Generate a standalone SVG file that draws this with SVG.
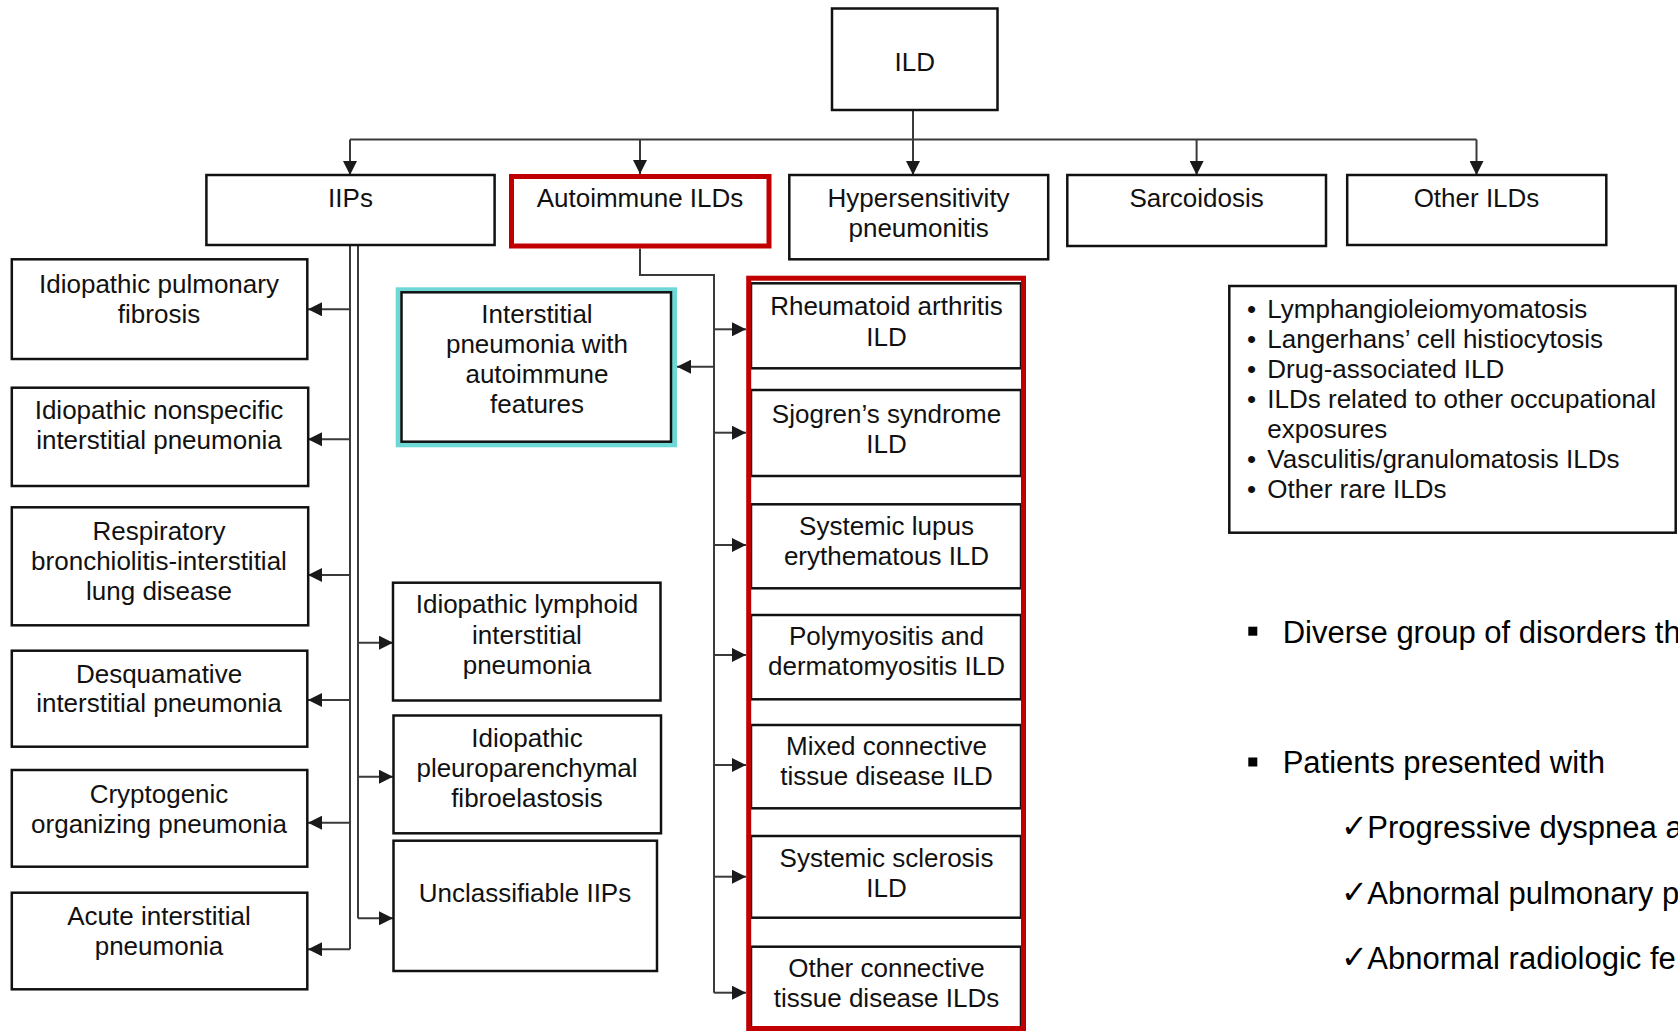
<svg xmlns="http://www.w3.org/2000/svg" width="1678" height="1031" viewBox="0 0 1678 1031">
<defs>
<marker id="arr" markerUnits="userSpaceOnUse" markerWidth="14" markerHeight="14" refX="14" refY="7" orient="auto"><path d="M0,0 L14,7 L0,14 z" fill="#1a1a1a"/></marker>
</defs>
<style>
.box{fill:#fff;stroke:#111;stroke-width:2.5}
.red{fill:none;stroke:#C00000;stroke-width:5}
.cyan{fill:none;stroke:#6ED8D6;stroke-width:5}
.t{font-family:"Liberation Sans",Arial,Helvetica,sans-serif;font-size:26px;fill:#111;text-anchor:middle}
.l{font-family:"Liberation Sans",Arial,Helvetica,sans-serif;font-size:26px;fill:#111}
.b{font-family:"Liberation Sans",Arial,Helvetica,sans-serif;font-size:31px;fill:#000}
.chk{font-family:"DejaVu Sans",sans-serif;font-size:32px}
.c{fill:none;stroke:#3a3a3a;stroke-width:2}
.a{marker-end:url(#arr)}
</style>
<rect width="1678" height="1031" fill="#fff"/>

<g id="connectors">
<path class="c a" d="M913,110 V175"/>
<path class="c" d="M350,139.5 H1476.5"/>
<path class="c a" d="M350,139.5 V175"/>
<path class="c a" d="M640,139.5 V174"/>
<path class="c a" d="M1196.6,139.5 V175"/>
<path class="c a" d="M1476.5,139.5 V175"/>
<path class="c" d="M350,245 V949.3"/>
<path class="c" d="M358,245 V918.3"/>
<path class="c a" d="M350,309.3 H308"/>
<path class="c a" d="M350,439.3 H308"/>
<path class="c a" d="M350,575 H308"/>
<path class="c a" d="M350,700 H308"/>
<path class="c a" d="M350,822.7 H308"/>
<path class="c a" d="M350,949.3 H308"/>
<path class="c a" d="M358,642.7 H393"/>
<path class="c a" d="M358,776.7 H393"/>
<path class="c a" d="M358,918.3 H393"/>
<path class="c" d="M640,248.5 V275 H714 V992.7"/>
<path class="c a" d="M714,366.7 H677"/>
<path class="c a" d="M714,329.3 H746"/>
<path class="c a" d="M714,432.7 H746"/>
<path class="c a" d="M714,545 H746"/>
<path class="c a" d="M714,655 H746"/>
<path class="c a" d="M714,765 H746"/>
<path class="c a" d="M714,876.7 H746"/>
<path class="c a" d="M714,992.7 H746"/>
</g>

<g id="ild"><rect class="box" x="832" y="8.5" width="165.5" height="101.5"/><text class="t" x="914.7" y="70.5">ILD</text></g>

<g id="iips"><rect class="box" x="206.4" y="175" width="288.2" height="70"/><text class="t" x="350.5" y="207">IIPs</text></g>
<g id="autoimmune"><rect class="red" x="511.5" y="176.5" width="257.5" height="69.5" fill="#fff"/><text class="t" x="640" y="206.7">Autoimmune ILDs</text></g>
<g id="hp"><rect class="box" x="789.3" y="175" width="258.9" height="84.3"/><text class="t" x="918.6" y="206.7">Hypersensitivity</text><text class="t" x="918.6" y="237.3">pneumonitis</text></g>
<g id="sarcoidosis"><rect class="box" x="1067.3" y="175" width="258.7" height="71"/><text class="t" x="1196.6" y="206.7">Sarcoidosis</text></g>
<g id="other-ilds"><rect class="box" x="1347.2" y="175" width="259.1" height="70"/><text class="t" x="1476.5" y="206.7">Other ILDs</text></g>

<g id="ipf"><rect class="box" x="11.8" y="259.3" width="295.5" height="99.7"/><text class="t" x="159" y="292.7">Idiopathic pulmonary</text><text class="t" x="159" y="322.7">fibrosis</text></g>
<g id="insip"><rect class="box" x="11.8" y="387.7" width="296.4" height="98.3"/><text class="t" x="159" y="419.3">Idiopathic nonspecific</text><text class="t" x="159" y="449.3">interstitial pneumonia</text></g>
<g id="rbild"><rect class="box" x="11.8" y="507.3" width="296.4" height="118"/><text class="t" x="159" y="539.5">Respiratory</text><text class="t" x="159" y="569.5">bronchiolitis-interstitial</text><text class="t" x="159" y="599.5">lung disease</text></g>
<g id="dip"><rect class="box" x="11.8" y="650.7" width="295.5" height="96"/><text class="t" x="159" y="683">Desquamative</text><text class="t" x="159" y="712">interstitial pneumonia</text></g>
<g id="cop"><rect class="box" x="11.8" y="770" width="295.5" height="96.7"/><text class="t" x="159" y="802.7">Cryptogenic</text><text class="t" x="159" y="832.7">organizing pneumonia</text></g>
<g id="aip"><rect class="box" x="11.8" y="892.7" width="295.5" height="96.6"/><text class="t" x="159" y="924.5">Acute interstitial</text><text class="t" x="159" y="954.5">pneumonia</text></g>

<g id="ipaf"><rect class="cyan" x="398.2" y="289.8" width="276.3" height="155"/><rect class="box" x="401.5" y="292.3" width="269.5" height="149.4" stroke-width="2"/><text class="t" x="537" y="323.3">Interstitial</text><text class="t" x="537" y="353.3">pneumonia with</text><text class="t" x="537" y="383.3">autoimmune</text><text class="t" x="537" y="413.3">features</text></g>
<g id="lip"><rect class="box" x="393" y="582.7" width="267.5" height="117.8"/><text class="t" x="527" y="613.3">Idiopathic lymphoid</text><text class="t" x="527" y="643.5">interstitial</text><text class="t" x="527" y="673.5">pneumonia</text></g>
<g id="ppfe"><rect class="box" x="393.5" y="715.5" width="267.5" height="117.8"/><text class="t" x="527" y="746.7">Idiopathic</text><text class="t" x="527" y="776.7">pleuroparenchymal</text><text class="t" x="527" y="806.7">fibroelastosis</text></g>
<g id="unclassifiable"><rect class="box" x="393.5" y="840.7" width="263.5" height="130.3"/><text class="t" x="525" y="901.7">Unclassifiable IIPs</text></g>

<g id="ctd-group">
<g id="ra"><rect class="box" x="751" y="283.3" width="270" height="85"/><text class="t" x="886.5" y="315">Rheumatoid arthritis</text><text class="t" x="886.5" y="346">ILD</text></g>
<g id="sjogren"><rect class="box" x="751" y="390" width="270" height="86"/><text class="t" x="886.5" y="422.7">Sjogren’s syndrome</text><text class="t" x="886.5" y="452.7">ILD</text></g>
<g id="sle"><rect class="box" x="751" y="504.3" width="270" height="84"/><text class="t" x="886.5" y="535">Systemic lupus</text><text class="t" x="886.5" y="565">erythematous ILD</text></g>
<g id="pmdm"><rect class="box" x="751" y="615" width="270" height="84.3"/><text class="t" x="886.5" y="645">Polymyositis and</text><text class="t" x="886.5" y="675">dermatomyositis ILD</text></g>
<g id="mctd"><rect class="box" x="751" y="725" width="270" height="83.3"/><text class="t" x="886.5" y="755">Mixed connective</text><text class="t" x="886.5" y="785">tissue disease ILD</text></g>
<g id="ssc"><rect class="box" x="751" y="836" width="270" height="81.7"/><text class="t" x="886.5" y="866.7">Systemic sclerosis</text><text class="t" x="886.5" y="896.7">ILD</text></g>
<g id="other-ctd"><rect class="box" x="751" y="946.7" width="270" height="90"/><text class="t" x="886.5" y="976.7">Other connective</text><text class="t" x="886.5" y="1006.7">tissue disease ILDs</text></g>
<rect class="red" x="748.7" y="278.2" width="274.8" height="750.3"/>
</g>

<g id="other-list"><rect class="box" x="1229.3" y="286" width="446.4" height="246.7" stroke-width="2"/>
<text class="l"><tspan x="1247" y="318.3">•</tspan><tspan x="1267.3">Lymphangioleiomyomatosis</tspan></text>
<text class="l"><tspan x="1247" y="348.3">•</tspan><tspan x="1267.3">Langerhans’ cell histiocytosis</tspan></text>
<text class="l"><tspan x="1247" y="378.3">•</tspan><tspan x="1267.3">Drug-associated ILD</tspan></text>
<text class="l"><tspan x="1247" y="408.3">•</tspan><tspan x="1267.3">ILDs related to other occupational</tspan></text>
<text class="l" x="1267.3" y="437.7">exposures</text>
<text class="l"><tspan x="1247" y="468.3">•</tspan><tspan x="1267.3">Vasculitis/granulomatosis ILDs</tspan></text>
<text class="l"><tspan x="1247" y="498.3">•</tspan><tspan x="1267.3">Other rare ILDs</tspan></text>
</g>

<g id="notes">
<rect x="1248.3" y="626.7" width="9" height="9" fill="#000"/>
<text class="b" x="1282.7" y="642.7">Diverse group of disorders th</text>
<rect x="1248.3" y="757.5" width="9" height="9" fill="#000"/>
<text class="b" x="1282.7" y="773.3">Patients presented with</text>
<text class="b"><tspan class="chk" x="1341" y="837">✓</tspan><tspan x="1367.3" y="838.3">Progressive dyspnea a</tspan></text>
<text class="b"><tspan class="chk" x="1341" y="903">✓</tspan><tspan x="1367.3" y="904.3">Abnormal pulmonary p</tspan></text>
<text class="b"><tspan class="chk" x="1341" y="968">✓</tspan><tspan x="1367.3" y="969.3">Abnormal radiologic fe</tspan></text>
</g>
</svg>
